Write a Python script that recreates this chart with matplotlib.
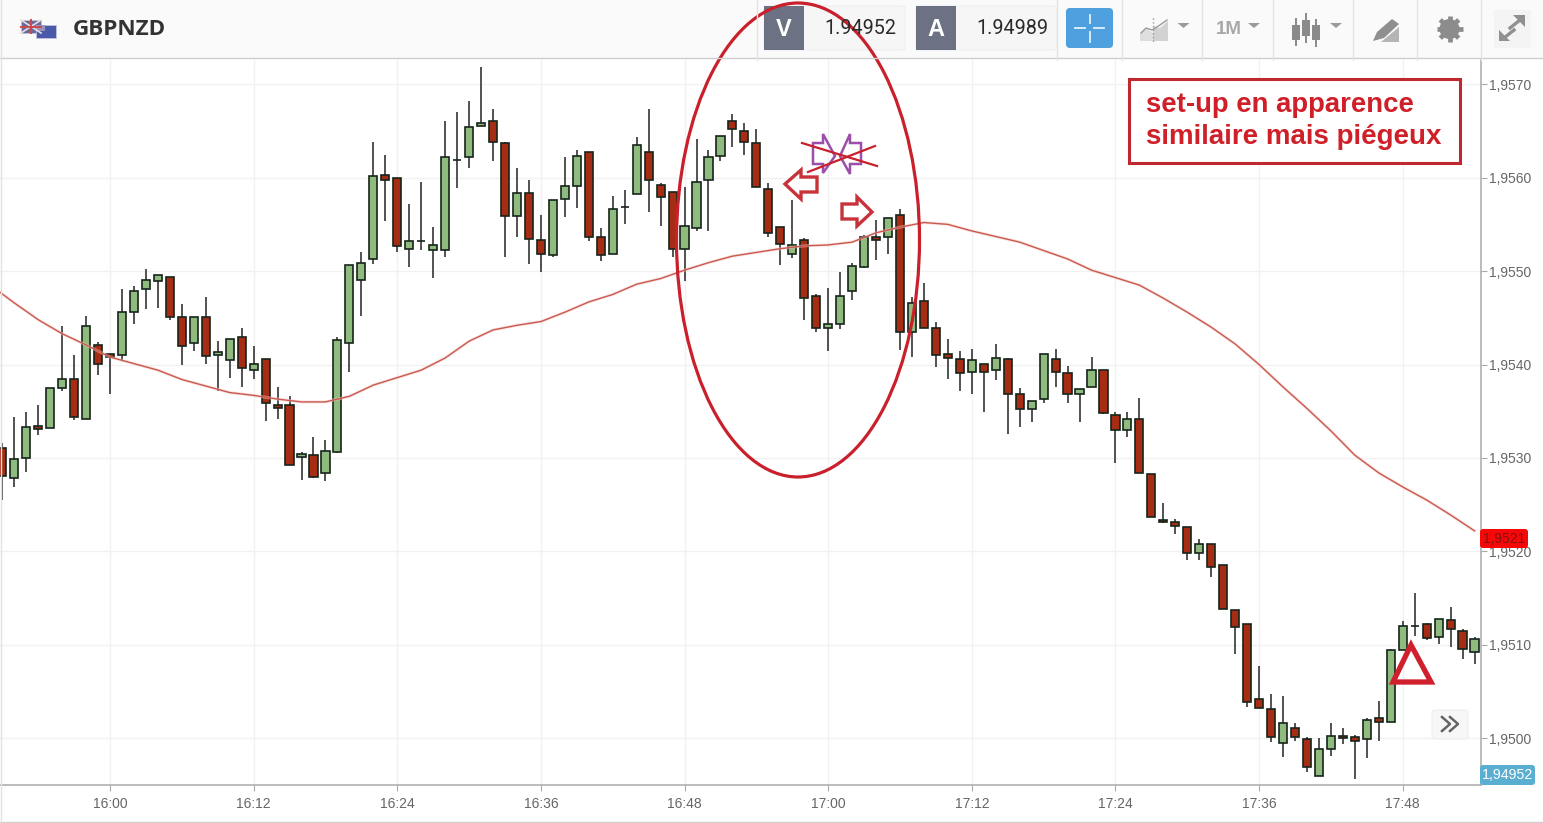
import numpy as np
import matplotlib
matplotlib.use('Agg')
import matplotlib.pyplot as plt
import matplotlib.patches as patches

# one candle per minute, first one at 15:51
opens = [
    1.95311, 1.95279, 1.95300, 1.95334, 1.95332, 1.95375, 1.95384, 1.95342, 1.95421, 1.95411,
    1.95410, 1.95456, 1.95481, 1.95489, 1.95494, 1.95451, 1.95423, 1.95451, 1.95410, 1.95405,
    1.95429, 1.95394, 1.95406, 1.95357, 1.95357, 1.95301, 1.95303, 1.95284, 1.95306, 1.95423,
    1.95490, 1.95513, 1.95603, 1.95600, 1.95524, 1.95532, 1.95523, 1.95523, 1.95619, 1.95622,
    1.95655, 1.95661, 1.95637, 1.95559, 1.95584, 1.95533, 1.95517, 1.95577, 1.95591, 1.95627,
    1.95536, 1.95518, 1.95569, 1.95582, 1.95628, 1.95592, 1.95585, 1.95524, 1.95546, 1.95597,
    1.95623, 1.95661, 1.95650, 1.95637, 1.95588, 1.95547, 1.95518, 1.95533, 1.95473, 1.95439,
    1.95443, 1.95479, 1.95504, 1.95536, 1.95536, 1.95560, 1.95435, 1.95468, 1.95439, 1.95411,
    1.95406, 1.95392, 1.95401, 1.95394, 1.95406, 1.95369, 1.95352, 1.95363, 1.95406, 1.95391,
    1.95369, 1.95376, 1.95394, 1.95346, 1.95330, 1.95342, 1.95283, 1.95234, 1.95231, 1.95226,
    1.95198, 1.95208, 1.95185, 1.95137, 1.95122, 1.95042, 1.95031, 1.94995, 1.95011, 1.94999,
    1.94960, 1.94988, 1.95002, 1.95001, 1.94999, 1.95022, 1.95017, 1.95095, 1.95120, 1.95122,
    1.95108, 1.95127, 1.95115, 1.95092,
]
highs = [
    1.95316, 1.95344, 1.95349, 1.95357, 1.95375, 1.95441, 1.95410, 1.95452, 1.95424, 1.95411,
    1.95481, 1.95484, 1.95502, 1.95496, 1.95494, 1.95465, 1.95451, 1.95472, 1.95425, 1.95427,
    1.95439, 1.95420, 1.95406, 1.95376, 1.95366, 1.95306, 1.95322, 1.95319, 1.95430, 1.95506,
    1.95520, 1.95638, 1.95624, 1.95600, 1.95572, 1.95595, 1.95547, 1.95661, 1.95670, 1.95682,
    1.95718, 1.95673, 1.95638, 1.95610, 1.95598, 1.95560, 1.95576, 1.95622, 1.95630, 1.95627,
    1.95546, 1.95580, 1.95587, 1.95643, 1.95673, 1.95594, 1.95585, 1.95590, 1.95641, 1.95630,
    1.95645, 1.95668, 1.95659, 1.95652, 1.95594, 1.95547, 1.95576, 1.95535, 1.95476, 1.95482,
    1.95499, 1.95509, 1.95539, 1.95555, 1.95557, 1.95566, 1.95472, 1.95487, 1.95446, 1.95427,
    1.95414, 1.95417, 1.95401, 1.95422, 1.95407, 1.95375, 1.95361, 1.95411, 1.95417, 1.95398,
    1.95374, 1.95408, 1.95394, 1.95349, 1.95349, 1.95364, 1.95283, 1.95252, 1.95235, 1.95226,
    1.95213, 1.95208, 1.95185, 1.95137, 1.95122, 1.95077, 1.95047, 1.95045, 1.95016, 1.95001,
    1.95000, 1.95016, 1.95011, 1.95003, 1.95022, 1.95040, 1.95096, 1.95125, 1.95155, 1.95123,
    1.95128, 1.95140, 1.95117, 1.95108,
]
lows = [
    1.95255, 1.95269, 1.95285, 1.95325, 1.95332, 1.95372, 1.95341, 1.95342, 1.95389, 1.95368,
    1.95405, 1.95443, 1.95459, 1.95460, 1.95448, 1.95400, 1.95415, 1.95401, 1.95372, 1.95386,
    1.95376, 1.95385, 1.95340, 1.95342, 1.95292, 1.95276, 1.95279, 1.95275, 1.95305, 1.95392,
    1.95452, 1.95508, 1.95554, 1.95520, 1.95504, 1.95523, 1.95493, 1.95515, 1.95589, 1.95610,
    1.95655, 1.95618, 1.95515, 1.95537, 1.95508, 1.95499, 1.95515, 1.95558, 1.95568, 1.95532,
    1.95511, 1.95518, 1.95550, 1.95582, 1.95563, 1.95548, 1.95515, 1.95489, 1.95543, 1.95543,
    1.95618, 1.95633, 1.95624, 1.95590, 1.95536, 1.95506, 1.95514, 1.95448, 1.95435, 1.95415,
    1.95438, 1.95469, 1.95503, 1.95512, 1.95518, 1.95416, 1.95408, 1.95439, 1.95397, 1.95385,
    1.95372, 1.95368, 1.95349, 1.95383, 1.95326, 1.95333, 1.95339, 1.95359, 1.95376, 1.95359,
    1.95339, 1.95376, 1.95347, 1.95295, 1.95322, 1.95284, 1.95237, 1.95230, 1.95219, 1.95191,
    1.95191, 1.95173, 1.95138, 1.95090, 1.95034, 1.95032, 1.94996, 1.94980, 1.94997, 1.94964,
    1.94960, 1.94981, 1.94994, 1.94956, 1.94979, 1.94997, 1.95017, 1.95095, 1.95109, 1.95105,
    1.95101, 1.95098, 1.95085, 1.95079,
]
closes = [
    1.95281, 1.95299, 1.95333, 1.95331, 1.95375, 1.95385, 1.95344, 1.95441, 1.95401, 1.95408,
    1.95456, 1.95479, 1.95491, 1.95496, 1.95451, 1.95420, 1.95451, 1.95409, 1.95413, 1.95427,
    1.95396, 1.95401, 1.95359, 1.95354, 1.95292, 1.95304, 1.95280, 1.95307, 1.95426, 1.95506,
    1.95509, 1.95602, 1.95597, 1.95527, 1.95532, 1.95532, 1.95528, 1.95622, 1.95619, 1.95654,
    1.95658, 1.95638, 1.95559, 1.95584, 1.95534, 1.95518, 1.95576, 1.95591, 1.95623, 1.95537,
    1.95517, 1.95566, 1.95569, 1.95635, 1.95597, 1.95579, 1.95524, 1.95548, 1.95595, 1.95622,
    1.95645, 1.95652, 1.95638, 1.95590, 1.95541, 1.95529, 1.95528, 1.95471, 1.95439, 1.95443,
    1.95473, 1.95505, 1.95537, 1.95533, 1.95557, 1.95435, 1.95466, 1.95439, 1.95410, 1.95407,
    1.95391, 1.95405, 1.95392, 1.95407, 1.95369, 1.95352, 1.95361, 1.95411, 1.95392, 1.95369,
    1.95374, 1.95394, 1.95348, 1.95330, 1.95342, 1.95284, 1.95237, 1.95231, 1.95227, 1.95198,
    1.95208, 1.95183, 1.95138, 1.95119, 1.95039, 1.95032, 1.95001, 1.95016, 1.95001, 1.94969,
    1.94989, 1.95002, 1.95000, 1.94997, 1.95020, 1.95017, 1.95094, 1.95120, 1.95120, 1.95107,
    1.95128, 1.95117, 1.95096, 1.95106,
]

# moving average, read every second minute from 15:50
ma_values = [
    1.95485, 1.95466, 1.95448, 1.95433, 1.95421, 1.95408, 1.95401, 1.95394, 1.95384, 1.95377,
    1.95370, 1.95367, 1.95363, 1.95360, 1.95360, 1.95366, 1.95378, 1.95386, 1.95394, 1.95407,
    1.95425, 1.95437, 1.95442, 1.95446, 1.95456, 1.95467, 1.95475, 1.95486, 1.95492, 1.95501,
    1.95509, 1.95516, 1.95520, 1.95524, 1.95527, 1.95528, 1.95531, 1.95541, 1.95547, 1.95552,
    1.95550, 1.95543, 1.95537, 1.95531, 1.95522, 1.95513, 1.95501, 1.95493, 1.95485, 1.95471,
    1.95456, 1.95440, 1.95422, 1.95400, 1.95376, 1.95353, 1.95329, 1.95303, 1.95284, 1.95269,
    1.95255, 1.95239, 1.95222,
]

minutes = np.arange(-9, 115)
ma_minutes = np.arange(-10, 115, 2)

time_ticks = [0, 12, 24, 36, 48, 60, 72, 84, 96, 108]
time_labels = ['16:00', '16:12', '16:24', '16:36', '16:48', '17:00', '17:12', '17:24', '17:36', '17:48']
price_ticks = [1.9500, 1.9510, 1.9520, 1.9530, 1.9540, 1.9550, 1.9560, 1.9570]
price_labels = ['1,9500', '1,9510', '1,9520', '1,9530', '1,9540', '1,9550', '1,9560', '1,9570']

W, H = 1543, 823
GREEN = '#8fbb7f'
RED = '#a62c14'
ANNOT = '#c9202c'
plt.rcParams['font.family'] = ['Liberation Sans', 'DejaVu Sans']

fig = plt.figure(figsize=(W / 100, H / 100), dpi=100, facecolor='white')

# the chart itself, limits picked so the ticks land on the reference pixels
ax = fig.add_axes([0, 1 - 785 / H, 1481 / W, (785 - 59) / H])
ax.set_xlim(-9.19, 114.54)
ax.set_ylim(1.94950, 1.95727)
ax.yaxis.tick_right()
ax.set_xticks(time_ticks, time_labels)
ax.set_yticks(price_ticks, price_labels)
ax.tick_params(axis='both', length=4, width=0.8, color='#aaaaaa', labelcolor='#666666', labelsize=10)
ax.tick_params(axis='y', pad=2)
ax.tick_params(axis='x', pad=5)
ax.grid(True, color='#f1f1f1', linewidth=1)
ax.set_axisbelow(True)
for side in ['top', 'left']:
    ax.spines[side].set_visible(False)
for side in ['right', 'bottom']:
    ax.spines[side].set_color('#b0b0b0')
    ax.spines[side].set_linewidth(1.2)

o = np.array(opens)
h = np.array(highs)
l = np.array(lows)
c = np.array(closes)
colors = [GREEN if cl >= op else RED for op, cl in zip(o, c)]
bottoms = np.minimum(o, c)
heights = np.abs(c - o)
ax.vlines(minutes, l, h, color='#444444', linewidth=1.3, zorder=2)
ax.bar(minutes, heights, bottom=bottoms, width=0.68, color=colors, edgecolor='#16241a', linewidth=1.2, zorder=3)
ax.plot(ma_minutes, ma_values, color='#f3c6c0', linewidth=2.2, alpha=0.5, zorder=4)
ax.plot(ma_minutes, ma_values, color='#c9594f', linewidth=1.0, zorder=4)

# everything else sits in a pixel-coordinate layer on top
ov = fig.add_axes([0, 0, 1, 1], zorder=5)
ov.set_xlim(0, W)
ov.set_ylim(H, 0)
ov.axis('off')
ov.patch.set_alpha(0)

ov.add_patch(patches.Rectangle((0, 0), W, 58, facecolor='#fafafa', edgecolor='none'))
ov.plot([0, W], [58, 58], color='#cfcfcf', linewidth=1)
ov.plot([0, W], [822, 822], color='#cfcfcf', linewidth=1)
ov.plot([0.5, 0.5], [0, H], color='#e2e2e2', linewidth=1)
for x in [757, 1057, 1122, 1202, 1273, 1353, 1417, 1481]:
    ov.plot([x, x], [0, 60], color='#e4e4e4', linewidth=1)

# flags
ov.add_patch(patches.Rectangle((21, 20), 20, 13, facecolor='#6a6a9c', edgecolor='#c8c8d8', linewidth=0.5))
ov.plot([21, 41], [20, 33], color='#e8dede', linewidth=1.2)
ov.plot([21, 41], [33, 20], color='#e8dede', linewidth=1.2)
ov.plot([31, 31], [20, 33], color='#c84a50', linewidth=1.4)
ov.plot([21, 41], [26.5, 26.5], color='#c84a50', linewidth=1.4)
ov.add_patch(patches.Rectangle((36, 25), 20, 13, facecolor='#4a5aa8', edgecolor='#c8c8e0', linewidth=0.5))
ov.add_patch(patches.Rectangle((37, 25), 8, 6, facecolor='#9a90b8', edgecolor='none'))
ov.text(73, 29, 'GBPNZD', family='Open Sans', weight='bold', fontsize=16.2, color='#333333', va='center')

# bid / ask boxes
for x0, x1, letter, price in [(764, 905, 'V', '1.94952'), (916, 1057, 'A', '1.94989')]:
    ov.add_patch(patches.FancyBboxPatch((x0, 6), x1 - x0, 44, boxstyle='round,pad=0,rounding_size=3',
                                        facecolor='#f6f6f6', edgecolor='#efefef', linewidth=0.8))
    ov.add_patch(patches.Rectangle((x0, 6), 40, 44, facecolor='#6c7183', edgecolor='none'))
    ov.text(x0 + 20, 29, letter, color='white', weight='bold', fontsize=17, ha='center', va='center')
    ov.text(x1 - 9, 28, price, family='Roboto', color='#2b2b2b', fontsize=14.2, ha='right', va='center')

# crosshair button
ov.add_patch(patches.FancyBboxPatch((1066, 8), 47, 40, boxstyle='round,pad=0,rounding_size=4',
                                    facecolor='#4ea1de', edgecolor='none'))
ov.plot([1075, 1085], [28, 28], color='#e4f1fb', linewidth=1.3)
ov.plot([1094, 1104], [28, 28], color='#e4f1fb', linewidth=1.3)
ov.plot([1089.5, 1089.5], [15, 23], color='#e4f1fb', linewidth=1.3)
ov.plot([1089.5, 1089.5], [32, 42], color='#e4f1fb', linewidth=1.3)

# toolbar icons
GREY = '#9b9b9b'
ov.add_patch(patches.Polygon([(1140, 41), (1140, 33), (1146, 28), (1153, 33), (1153, 41)], facecolor='#dedede'))
ov.add_patch(patches.Polygon([(1153, 41), (1153, 26), (1160, 28), (1168, 21), (1168, 41)], facecolor='#d2d2d2'))
ov.plot([1141, 1146, 1152, 1160, 1167], [33, 28, 30, 25, 20], color=GREY, linewidth=1)
ov.plot([1153, 1153], [18, 43], color=GREY, linewidth=1, linestyle=':')
for x in [1183.5, 1254, 1336]:
    ov.add_patch(patches.Polygon([(x - 6, 23), (x + 6, 23), (x, 28)], facecolor=GREY))
ov.text(1229, 29, '1M', color='#a8a8a8', weight='bold', fontsize=13.5, ha='center', va='center')
for x, top, bottom, b0, b1 in [(1296, 19, 45, 25, 40), (1306, 14, 42, 20, 36), (1316, 20, 46, 25, 40)]:
    ov.plot([x, x], [top, bottom], color='#8a8a8a', linewidth=1.4)
    ov.add_patch(patches.Rectangle((x - 4, b0), 8, b1 - b0, facecolor='#8a8a8a'))
ov.add_patch(patches.Polygon([(1373, 41), (1377, 32), (1392, 19), (1399, 24), (1384, 38)], facecolor='#8f8f8f'))
ov.add_patch(patches.Polygon([(1381, 42), (1399, 27), (1399, 42)], facecolor='#b5b5b5'))

# gear
for angle in np.arange(0, 360, 45):
    a = np.radians(angle)
    ov.plot([1449.5, 1449.5 + 13 * np.cos(a)], [29, 29 + 13 * np.sin(a)], color='#8c8c8c', linewidth=3.4,
            solid_capstyle='butt')
ov.add_patch(patches.Circle((1449.5, 29), 10, facecolor='#8c8c8c'))
ov.add_patch(patches.Circle((1449.5, 29), 4, facecolor='#fafafa'))

# expand icon
ov.add_patch(patches.Rectangle((1494, 10), 37, 38, facecolor='#f4f4f4', edgecolor='none'))
ov.plot([1510, 1520], [28, 20], color='#909090', linewidth=2.4)
ov.plot([1504, 1514], [38, 30], color='#909090', linewidth=2.4)
ov.add_patch(patches.Polygon([(1525, 15), (1525, 27), (1513, 15)], facecolor='#909090'))
ov.add_patch(patches.Polygon([(1499, 41), (1499, 30), (1510, 41)], facecolor='#909090'))

# annotations
ov.add_patch(patches.Ellipse((798, 240), 243, 474, fill=False, edgecolor=ANNOT, linewidth=2.3))
ov.add_patch(patches.Rectangle((1129, 79), 331, 84, facecolor='white', edgecolor='#c0282f', linewidth=2.2))
ov.text(1146, 105, 'set-up en apparence', color='#cf2029', weight='bold', fontsize=19.8, va='center')
ov.text(1146, 137, 'similaire mais piégeux', color='#cf2029', weight='bold', fontsize=20, va='center')

ov.add_patch(patches.Polygon([(785, 184), (801, 170), (801, 177), (817, 177), (817, 192), (801, 192), (801, 199)],
                             fill=False, edgecolor='#c8323a', linewidth=2.4))
ov.add_patch(patches.Polygon([(842, 204), (857, 204), (857, 197), (872, 212), (857, 226), (857, 219), (842, 219)],
                             fill=False, edgecolor='#c8323a', linewidth=2.4))
ov.add_patch(patches.Polygon([(813, 143), (823, 143), (823, 134), (835, 156), (823, 173), (823, 164), (813, 164)],
                             fill=False, edgecolor='#9b4fa8', linewidth=1.8))
ov.add_patch(patches.Polygon([(840, 156), (850, 134), (850, 143), (861, 143), (861, 164), (850, 164), (850, 174)],
                             fill=False, edgecolor='#9b4fa8', linewidth=1.8))
ov.plot([802, 877], [143, 166], color=ANNOT, linewidth=1.6)
ov.plot([808, 875], [172, 146], color=ANNOT, linewidth=1.6)
ov.add_patch(patches.Polygon([(1411, 645), (1393, 682), (1431, 682)], fill=False, edgecolor='#d0202e', linewidth=3.8))

# price tags
ov.add_patch(patches.FancyBboxPatch((1480, 529), 48, 19, boxstyle='round,pad=0,rounding_size=3',
                                    facecolor='#f50808', edgecolor='none'))
ov.text(1504, 539, '1,9521', color='#8a1010', fontsize=10, ha='center', va='center')
ov.add_patch(patches.FancyBboxPatch((1480, 765), 55, 20, boxstyle='round,pad=0,rounding_size=3',
                                    facecolor='#5aaed2', edgecolor='none'))
ov.text(1507.5, 775, '1,94952', color='white', fontsize=10.2, ha='center', va='center')

# scroll button
ov.add_patch(patches.FancyBboxPatch((1432, 710), 36, 29, boxstyle='round,pad=0,rounding_size=3',
                                    facecolor='#f7f7f7', edgecolor='#eeeeee', linewidth=0.8))
for x in [1442, 1450]:
    ov.plot([x, x + 8, x], [717, 724, 731], color='#666666', linewidth=1.8)

fig.savefig('out.png', dpi=100)
